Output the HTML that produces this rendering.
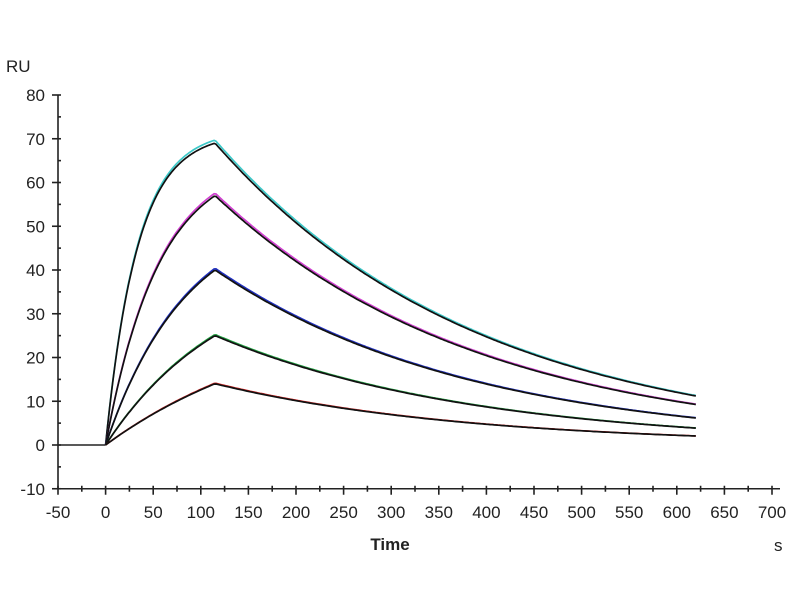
<!DOCTYPE html><html><head><style>body{margin:0;background:#fff}svg{display:block}text{font-family:"Liberation Sans",sans-serif;fill:#222}</style></head><body>
<svg id="s" width="800" height="600" xmlns="http://www.w3.org/2000/svg">
<text x="6" y="72" font-size="17">RU</text>
<text x="774" y="551" font-size="17">s</text>
<text x="390" y="550" font-size="17" font-weight="bold" text-anchor="middle">Time</text>
<g id="ax" stroke="#222" stroke-width="1.6" fill="none"></g>
<g id="lb" font-size="17"></g>
<g id="cv" fill="none"></g>
</svg>
<script>
var X=t=>58+(t+50)*47.6/50, Y=v=>445-v*4.375;
var ax=document.getElementById('ax'),lb=document.getElementById('lb'),cv=document.getElementById('cv');
var ns='http://www.w3.org/2000/svg';
function el(p,tag,a,txt){var e=document.createElementNS(ns,tag);for(var k in a)e.setAttribute(k,a[k]);if(txt!=null)e.textContent=txt;p.appendChild(e);return e;}
el(ax,'line',{x1:X(-50),y1:Y(80),x2:X(-50),y2:Y(-10)});
el(ax,'line',{x1:X(-50),y1:Y(-10),x2:X(700)+8,y2:Y(-10)});
for(var v=-10;v<=80;v+=5){var maj=v%10==0;el(ax,'line',{x1:X(-50)-(maj?6:0),y1:Y(v),x2:X(-50)+3,y2:Y(v)});if(maj)el(lb,'text',{x:X(-50)-13,y:Y(v)+6,'text-anchor':'end'},v);}
for(var t=-50;t<=700;t+=25){var maj=t%50==0;el(ax,'line',{x1:X(t),y1:Y(-10)-3,x2:X(t),y2:Y(-10)+(maj?6:3)});if(maj)el(lb,'text',{x:X(t),y:Y(-10)+29,'text-anchor':'middle'},t);}
el(cv,'line',{x1:X(-50),y1:Y(0),x2:X(0),y2:Y(0),stroke:'#222','stroke-width':1.6});
var S=[[69,0.03,'#3cc8c8',0.0036],[57,0.018,'#d040d0',0.0036],[40,0.012,'#2030c0',0.0037],[25,0.008,'#20a040',0.0037],[14,0.005,'#d02020',0.0038]];
S.forEach(function(s){var pk=s[0],k=s[1],Req=pk/(1-Math.exp(-k*115)),kd=s[3];
 function f(t){return t<=115?Req*(1-Math.exp(-k*t)):pk*Math.exp(-kd*(t-115));}
 [[s[2],0.8],['#111',-0.3]].forEach(function(c,i){var d='';for(var t=0;t<=620;t+=2){d+=(t?'L':'M')+X(t).toFixed(1)+','+(Y(f(t)*(i?1:1.01))).toFixed(1);}
 el(cv,'path',{d:d,stroke:c[0],'stroke-width':1.7});});
});
</script>
</body></html>
